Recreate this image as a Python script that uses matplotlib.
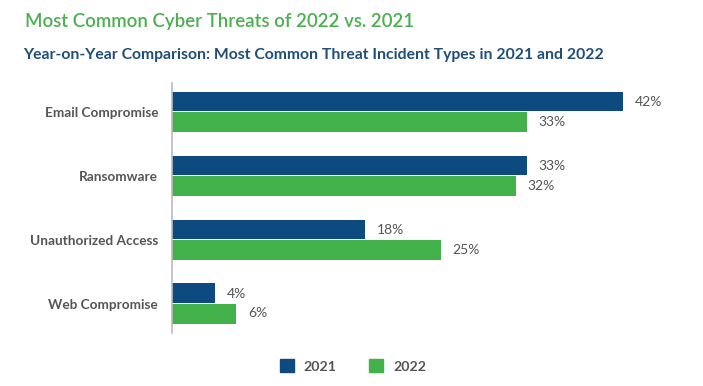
import matplotlib.pyplot as plt
import numpy as np
from matplotlib.patches import Patch

categories = ['Email Compromise', 'Ransomware', 'Unauthorized Access', 'Web Compromise']
vals_2021 = [42, 33, 18, 4]
vals_2022 = [33, 32, 25, 6]
years = ['2021', '2022']

blue = '#0D4A80'
green = '#42B14A'
gray = '#555555'

plt.rcParams['font.family'] = ['Lato', 'DejaVu Sans']

fig = plt.figure(figsize=(7.03, 3.86), dpi=100)
W, H = 703, 386
# axes placed in pixel coords: left 172, right 677, top 83, bottom 333
ax = fig.add_axes([172 / W, 1 - 333 / H, (677 - 172) / W, (333 - 83) / H])

y = np.arange(len(categories))
h = 0.31
ax.barh(y - h / 2 - 0.005, vals_2021, height=h, color=blue)
ax.barh(y + h / 2 + 0.005, vals_2022, height=h, color=green)

for yi, v in zip(y, vals_2021):
    ax.text(v + 1.1, yi - h / 2, f'{v}%', va='center', ha='left', fontsize=10, color=gray)
for yi, v in zip(y, vals_2022):
    ax.text(v + 1.1, yi + h / 2, f'{v}%', va='center', ha='left', fontsize=10, color=gray)

ax.set_xlim(0, 47)
ax.set_ylim(3.46, -0.45)
ax.set_yticks(y)
ax.set_yticklabels(categories, fontsize=9.8, fontweight='bold', color=gray)
ax.tick_params(axis='y', length=0, pad=10)
ax.set_xticks([])
for s in ['top', 'right', 'bottom']:
    ax.spines[s].set_visible(False)
ax.spines['left'].set_color('#BBBBBB')
ax.spines['left'].set_linewidth(1.2)

fig.text(25 / W, 1 - 22 / H, 'Most Common Cyber Threats of 2022 vs. 2021',
         fontsize=13.4, fontweight='semibold', color='#4CAF50', va='center', ha='left')
fig.text(23 / W, 1 - 55 / H,
         'Year-on-Year Comparison: Most Common Threat Incident Types in 2021 and 2022',
         fontsize=11.3, fontweight='bold', color='#1F4E79', va='center', ha='left')

handles = [Patch(color=blue, label=years[0]), Patch(color=green, label=years[1])]
leg = fig.legend(handles=handles, loc='center', bbox_to_anchor=(353 / W, 1 - 366 / H),
                 ncol=2, frameon=False, fontsize=10.2, handlelength=1.0, handleheight=1.0,
                 columnspacing=2.3, handletextpad=0.7)
for t in leg.get_texts():
    t.set_color(gray)
    t.set_fontweight('bold')

fig.savefig('out.png', dpi=100)
